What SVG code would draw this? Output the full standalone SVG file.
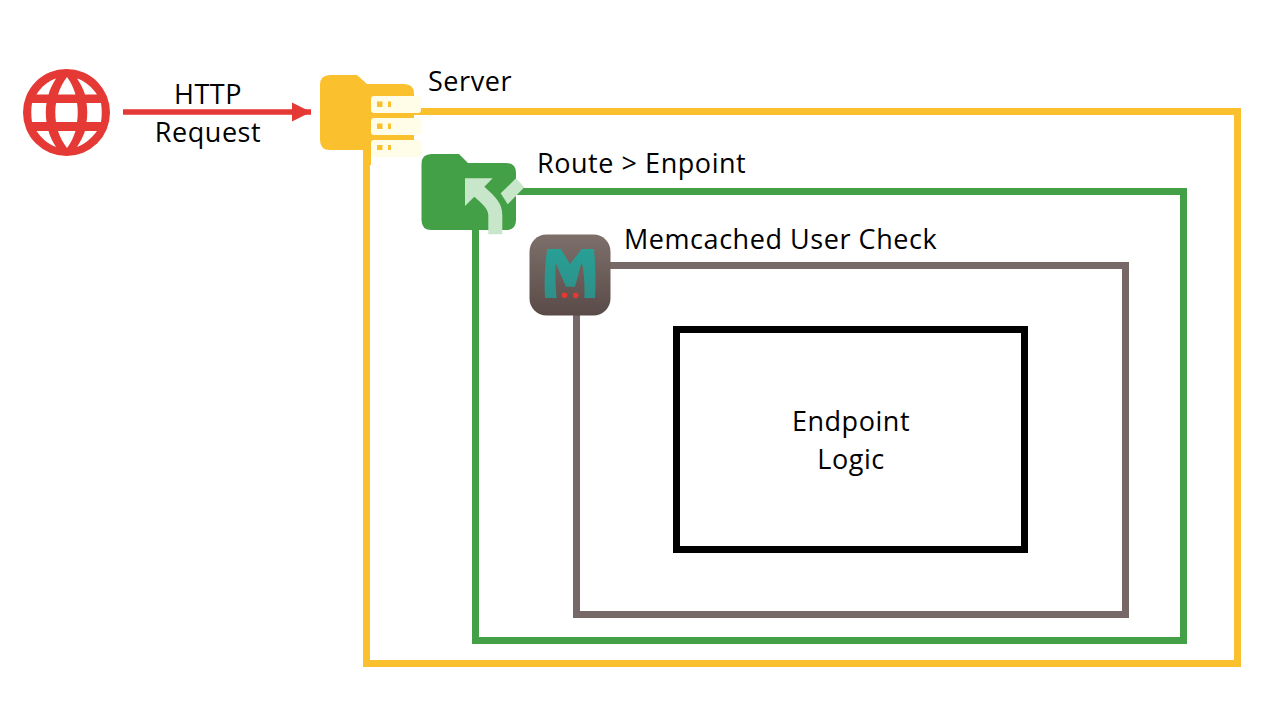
<svg xmlns="http://www.w3.org/2000/svg" width="1280" height="720" viewBox="0 0 1280 720">
<style>
text{font-family:"Open Sans","Noto Sans","DejaVu Sans",sans-serif;font-size:27px;letter-spacing:.55px;fill:#000}
.c{text-anchor:middle}
.box{fill:none;stroke-width:7}
.strip{fill:#fffde7}
.led{fill:#fbc02d}
</style>
<defs>
<linearGradient id="mg" x1="0" y1="0" x2="0" y2="1"><stop offset="0" stop-color="#7d6f6a"/><stop offset="1" stop-color="#5a4b48"/></linearGradient>
<linearGradient id="tg" x1="0" y1="0" x2="0" y2="1"><stop offset="0" stop-color="#27a096"/><stop offset="1" stop-color="#2f8f88"/></linearGradient>
<marker id="arr" markerUnits="userSpaceOnUse" markerWidth="22" markerHeight="22" refX="20" refY="11" orient="auto"><path d="M1 1.500L20 11L1 20.500Z" fill="#e53935"/></marker>
</defs>
<rect width="1280" height="720" fill="#fff"/>
<g id="connectors">
<line x1="123" y1="112" x2="311" y2="112" stroke="#e53935" stroke-width="5.500" marker-end="url(#arr)"/>
</g>
<g id="server">
<rect class="box" x="366.500" y="111.500" width="871" height="552" stroke="#fbc02d"/>
<path d="M330 75H357L367 84H404Q414 84 414 94V140Q414 150 404 150H330Q320 150 320 140V85Q320 75 330 75Z" fill="#fbc02d"/>
<rect x="363" y="135" width="8" height="30" fill="#fbc02d"/>
<rect class="strip" x="371" y="96" width="50" height="17" rx="3"/>
<rect class="strip" x="371" y="118" width="50" height="17" rx="3"/>
<rect class="strip" x="371" y="140" width="50" height="17" rx="3"/>
<rect class="led" x="377" y="101.500" width="5.500" height="5.500"/><rect class="led" x="388" y="101.500" width="3" height="5.500"/>
<rect class="led" x="377" y="123.500" width="5.500" height="5.500"/><rect class="led" x="388" y="123.500" width="3" height="5.500"/>
<rect class="led" x="377" y="145" width="5.500" height="5"/><rect class="led" x="388" y="145" width="3" height="5"/>
<text x="428" y="91">Server</text>
</g>
<g id="route">
<rect class="box" x="475.500" y="191.500" width="708" height="449" stroke="#43a047"/>
<path d="M431.500 154H459L468 163H506Q516 163 516 173V220Q516 230 506 230H431.500Q421.500 230 421.500 220V164Q421.500 154 431.500 154Z" fill="#43a047"/>
<path d="M465 178.300H492.700L484.300 186.700C495 196 502.300 203 502.300 215V234.300H488.300V215C488.300 208 480 202 474.300 196.700L465 206Z" fill="#c8e6c9"/>
<path d="M516 178.300L524.300 187.300L507.700 204.300L500.700 193.300Z" fill="#c8e6c9"/>
<text x="537" y="173">Route &gt; Enpoint</text>
</g>
<g id="memcached">
<rect class="box" x="576.500" y="265.500" width="549" height="349" stroke="#756866"/>
<rect x="529.500" y="234.500" width="81" height="81" rx="17" fill="url(#mg)"/>
<path d="M547.300 249H560.700L570 264L581.700 249H594C595.500 265 596 284 595 298H584.300C585 286 584 272 581.700 262L575 286.700H566L555.700 263C555 272 555.500 287 556.700 298H545C544 282 545 263 547.300 249Z" fill="url(#tg)"/>
<circle cx="564.500" cy="295.300" r="2.800" fill="#e53935"/>
<circle cx="575.700" cy="295.300" r="2.800" fill="#e53935"/>
<text x="624" y="249">Memcached User Check</text>
</g>
<g id="endpoint">
<rect x="676.500" y="329.500" width="348" height="220" fill="none" stroke="#000" stroke-width="7"/>
<text class="c" x="851" y="431">Endpoint</text>
<text class="c" x="851" y="469">Logic</text>
</g>
<g id="client">
<circle cx="66.500" cy="112.500" r="43.500" fill="#e53935"/>
<path fill="#fff" d="M36.500 94.500C41 87 48 81 56 78.500C53 83 50 89 48.500 94.500Z M85 94.500C83 88 80 83 77 78.500C85 81 92 87 97 94.500Z M58 94.500C60 88 63 82 67 77C71 82 73.500 88 75.500 94.500Z M32 103H46.500C45.500 109 45.500 116 46.500 122H32C31 116 31 109 32 103Z M56 103H77C78 109 78 116 77 122H56C55 116 55 109 56 103Z M86.500 103H101C102 109 102 116 101 122H86.500C87.500 116 87.500 109 86.500 103Z M36.500 131H48.500C50 137 53 142 56 147C48 144 41 138 36.500 131Z M58 131H75.500C73.500 137 71 143 67 148C63 143 60 137 58 131Z M85 131H97C92 138 85 144 77 147C80 142 83 137 85 131Z"/>
</g>
<g id="labels">
<text class="c" x="208" y="104">HTTP</text>
<text class="c" x="208" y="142">Request</text>
</g>
</svg>
